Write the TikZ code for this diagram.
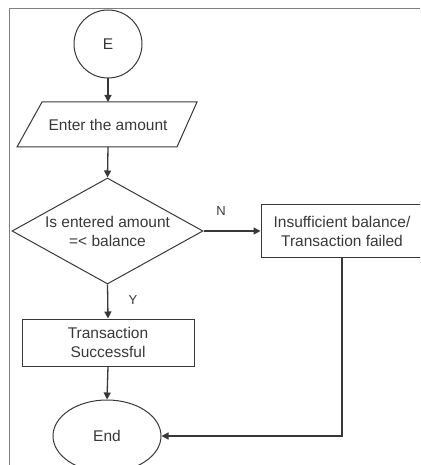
\documentclass[tikz,border=0pt]{standalone}
\usepackage{fontspec}
\setmainfont{Liberation Sans}
\usetikzlibrary{shapes.geometric,arrows.meta}
\definecolor{ink}{HTML}{383838}
\definecolor{framegray}{HTML}{808080}
\begin{document}
\begin{tikzpicture}[x=1pt,y=-1pt,
  every node/.style={text=ink,font=\fontsize{15.5}{19}\selectfont,align=center,inner sep=0pt},
  shapeline/.style={draw=ink,line width=1pt},
  flow/.style={draw=ink,line width=1.3pt,-{Triangle[length=7pt,width=7pt]}},
  branchlabel/.style={font=\fontsize{13}{15}\selectfont}]
  \useasboundingbox (0,0) rectangle (420,465);
  \clip (0,0) rectangle (420,465);

  % page frame (top and left edges)
  \draw[framegray,line width=1.5pt] (9.5,465) -- (9.5,8.5) -- (420,8.5);

  % start connector
  \node[shapeline,circle,minimum size=68pt] (start) at (108,44) {E};

  % input step
  \node (enter) at (108,124.5) {Enter the amount};
  \draw[shapeline] (42,102) -- (197,102) -- (177,147) -- (17,147) -- cycle;
  \coordinate (enterT) at (108,102);
  \coordinate (enterB) at (108,147);

  % decision
  \node[shapeline,diamond,aspect=1.8,minimum width=191pt,minimum height=106pt] (check) at (107.5,231)
    {Is entered amount\\=< balance};

  % success branch
  \node[shapeline,rectangle,minimum width=172pt,minimum height=47pt] (ok) at (108,342.5)
    {Transaction\\Successful};

  % failure branch
  \node[shapeline,rectangle,minimum width=162pt,minimum height=53pt] (fail) at (342,231)
    {Insufficient balance/\\Transaction failed};

  % terminal
  \node[shapeline,ellipse,minimum width=108pt,minimum height=72pt] (stop) at (107,436) {End};

  % connectors
  \draw[flow] (start) -- (enterT);
  \draw[flow] (enterB) -- (check.north);
  \draw[flow] (check.south) -- (ok.north);
  \draw[flow] (check.east) -- (fail.west);
  \draw[flow] (ok.south) -- (stop.north);
  \draw[flow] (fail.south) |- (stop.east);

  % branch labels
  \node[branchlabel] (ylabel) at (133,300) {Y};
  \node[branchlabel] (nlabel) at (221,211) {N};
\end{tikzpicture}
\end{document}
